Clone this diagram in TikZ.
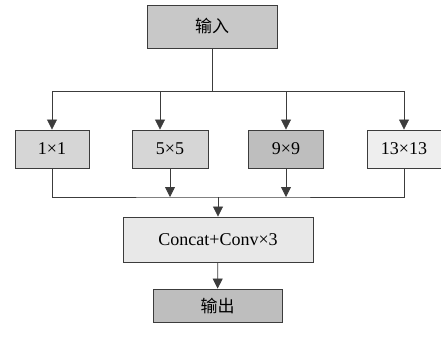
\documentclass[tikz,border=0pt]{standalone}
\usepackage{fontspec}
\setmainfont{Liberation Serif}
\newfontfamily\cjk{Noto Sans CJK SC}
\usetikzlibrary{arrows.meta}

\definecolor{grayA}{RGB}{200,200,200}
\definecolor{grayB}{RGB}{214,214,214}
\definecolor{grayC}{RGB}{190,190,190}
\definecolor{grayD}{RGB}{238,238,238}
\definecolor{grayE}{RGB}{232,232,232}
\definecolor{edge}{RGB}{60,60,60}

\begin{document}
\begin{tikzpicture}[x=1pt, y=-1pt,
		box/.style={draw=edge, line width=0.9pt, inner sep=0pt, font=\fontsize{18}{21}\selectfont},
		line/.style={draw=edge, line width=0.8pt},
		arr/.style={line, -{Triangle[width=10pt, length=10pt]}}]
		\useasboundingbox (0,0) rectangle (441,338);
		% input and output
		\node[box, fill=grayA, minimum width=130pt, minimum height=43pt] (in) at (212,26.5) {\cjk\fontsize{17}{20}\selectfont 输入};
		\node[box, fill=grayC, minimum width=129pt, minimum height=33pt] (out) at (217.5,305.5) {\cjk\fontsize{17}{20}\selectfont 输出};
		% pooling branches
		\node[box, fill=grayB, minimum width=74pt, minimum height=38pt] (b1) at (52,149) {1×1};
		\node[box, fill=grayB, minimum width=76pt, minimum height=38pt] (b2) at (170,149) {5×5};
		\node[box, fill=grayC, minimum width=75pt, minimum height=38pt] (b3) at (286,149) {9×9};
		\node[box, fill=grayD, minimum width=74pt, minimum height=38pt] (b4) at (404,149) {13×13};
		\node[box, fill=grayE, minimum width=190pt, minimum height=45pt] (cat) at (218,239.5) {Concat+Conv×3};
		% connectors
		\coordinate (split) at (212,91);
		\coordinate (merge) at (218,197);
		\draw[line] (in) -- (split);
		\draw[line] (b1.north |- split) -- (b4.north |- split);
		\draw[arr] (split) -| (b1.north);
		\draw[arr] (split) -| ([xshift=-10pt]b2.north);
		\draw[arr] (split) -| (b3.north);
		\draw[arr] (split) -| (b4.north);
		\draw[line] (b1.south) |- (merge) -| (b4.south);
		\draw[arr] (b2.south) -- (b2.south |- merge);
		\draw[arr] (b3.south) -- (b3.south |- merge);
		\draw[arr] (merge) -- (cat);
		\draw[arr] (cat) -- (out);
	\end{tikzpicture}
\end{document}
